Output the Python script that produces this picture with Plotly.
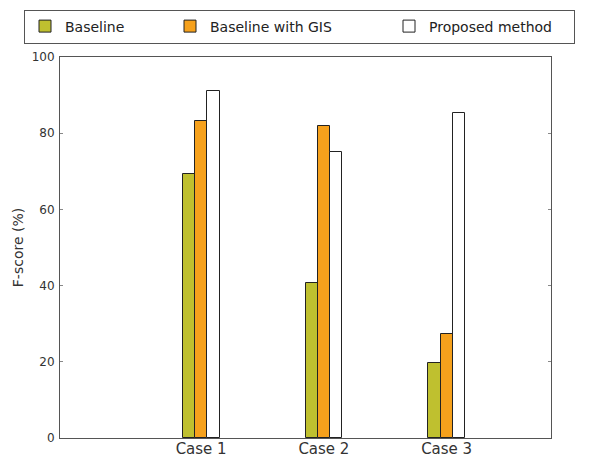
import plotly.graph_objects as go

# ---- data ----
cases = ["Case 1", "Case 2", "Case 3"]
series_names = ["Baseline", "Baseline with GIS", "Proposed method"]
baseline = [69.3, 40.8, 19.6]
baseline_gis = [83.3, 82.0, 27.3]
proposed = [91.0, 75.0, 85.2]
y_ticks = [0, 20, 40, 60, 80, 100]

# ---- styling ----
colors = ["#bfc02f", "#f6a11c", "#ffffff"]
legend_widths = [100, 174, 140]
bar_w = 0.1
positions = [i + 1 for i in range(len(cases))]

W, H = 591, 458
ML, MR, MT, MB = 60, 40, 57, 20
pw, ph = W - ML - MR, H - MT - MB

fig = go.Figure()
for k, (name, vals, col, lw) in enumerate(
        zip(series_names, [baseline, baseline_gis, proposed], colors, legend_widths)):
    fig.add_trace(go.Bar(
        x=[p + bar_w * (k + 0.5) for p in positions],
        y=vals,
        width=bar_w,
        name=name,
        marker=dict(color=col, line=dict(color="#222222", width=1)),
        legendwidth=lw,
    ))

fig.update_layout(
    width=W, height=H,
    margin=dict(l=ML, r=MR, t=MT, b=MB, autoexpand=False),
    paper_bgcolor="white", plot_bgcolor="white",
    font=dict(family="DejaVu Sans", color="#333333"),
    barmode="overlay",
    bargap=0,
    showlegend=True,
    legend=dict(
        orientation="h",
        x=(24 - ML) / pw, xanchor="left",
        y=1 + (MT - 9.5) / ph, yanchor="top",
        bordercolor="#555555", borderwidth=1,
        bgcolor="white",
        font=dict(size=14, color="#222222"),
        traceorder="normal",
    ),
    xaxis=dict(
        range=[0, 4],
        tickvals=[p + bar_w * 1.5 for p in positions],
        ticktext=cases,
        showline=True, mirror=True, linecolor="#555555", linewidth=1,
        showgrid=False, zeroline=False, ticks="",
        tickfont=dict(size=15, color="#333333"),
        ticklabelstandoff=-3,
        automargin=False,
    ),
    yaxis=dict(
        range=[0, 100],
        tickvals=y_ticks,
        ticks="inside", ticklen=3, tickcolor="#888888",
        showline=True, mirror="ticks", linecolor="#555555", linewidth=1,
        showgrid=False, zeroline=False,
        tickfont=dict(size=12, color="#333333"),
        ticklabelstandoff=2,
        title=dict(text="F-score (%)", font=dict(size=14, color="#333333"), standoff=4),
        automargin=False,
    ),
)

fig.write_html("out.html", config={"displayModeBar": False},
               post_script="document.body.style.margin='0';")
